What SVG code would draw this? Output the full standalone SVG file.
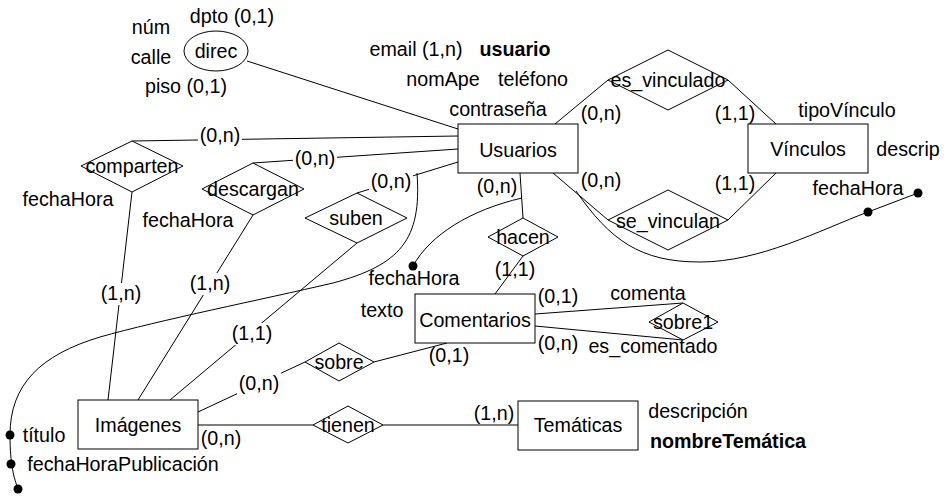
<svg xmlns="http://www.w3.org/2000/svg" width="949" height="501" viewBox="0 0 949 501">
<style>
text{font-family:"Liberation Sans",Arial,sans-serif;font-size:19.7px;fill:#000;text-anchor:middle}
.b{font-weight:bold}
.s{fill:#fff;stroke:#000;stroke-width:1}
.l{fill:none;stroke:#000;stroke-width:1}
.bg{fill:#fff}
.d{fill:#000}
</style>
<rect width="949" height="501" fill="#fff"/>
<g id="connectors">
<line class="l" x1="247" y1="61" x2="458" y2="129"/>
<line class="l" x1="132" y1="141" x2="458" y2="136"/>
<line class="l" x1="132" y1="192" x2="108" y2="400"/>
<line class="l" x1="253" y1="163" x2="458" y2="149"/>
<line class="l" x1="253" y1="215" x2="138" y2="400"/>
<line class="l" x1="357" y1="193" x2="458" y2="162"/>
<line class="l" x1="357" y1="243" x2="170" y2="400"/>
<line class="l" x1="555" y1="124" x2="608" y2="80"/>
<line class="l" x1="728" y1="80" x2="776" y2="124"/>
<line class="l" x1="553" y1="173" x2="608" y2="220"/>
<line class="l" x1="728" y1="220" x2="776" y2="173"/>
<line class="l" x1="520" y1="173" x2="523" y2="218"/>
<line class="l" x1="523" y1="256" x2="495" y2="294"/>
<line class="l" x1="535" y1="314" x2="683" y2="303"/>
<line class="l" x1="535" y1="326" x2="683" y2="340"/>
<line class="l" x1="374" y1="362" x2="447" y2="343"/>
<line class="l" x1="198" y1="412" x2="305" y2="362"/>
<line class="l" x1="198" y1="425" x2="313" y2="425"/>
<line class="l" x1="383" y1="425" x2="518" y2="425"/>
<path class="l" d="M576,191 C610,240 640,262 700,262 C760,262 820,230 868,212 L918,193"/>
<path class="l" d="M522,198 C470,210 430,235 413,266"/>
<path class="l" d="M417,173 C422,240 400,265 333,283 C260,300 160,320 100,337 C40,355 10,385 10,435 C10,465 14,478 18,489"/>
<circle class="d" cx="868" cy="212" r="4.5"/>
<circle class="d" cx="918" cy="193" r="4.5"/>
<circle class="d" cx="413" cy="266" r="4.5"/>
<circle class="d" cx="10" cy="435" r="4.5"/>
<circle class="d" cx="11" cy="464" r="4.5"/>
<circle class="d" cx="18" cy="489" r="4.5"/>
<rect class="bg" x="198" y="125" width="44" height="22"/>
<text x="220" y="142">(0,n)</text>
<rect class="bg" x="293" y="148" width="44" height="22"/>
<text x="315" y="165">(0,n)</text>
<rect class="bg" x="369" y="171" width="44" height="22"/>
<text x="391" y="188">(0,n)</text>
<rect class="bg" x="99" y="283" width="44" height="22"/>
<text x="121" y="300">(1,n)</text>
<rect class="bg" x="188" y="273" width="44" height="22"/>
<text x="210" y="290">(1,n)</text>
<rect class="bg" x="230" y="323" width="44" height="22"/>
<text x="252" y="340">(1,1)</text>
<rect class="bg" x="237" y="373" width="44" height="22"/>
<text x="259" y="390">(0,n)</text>
<text x="601" y="120">(0,n)</text>
<text x="735" y="120">(1,1)</text>
<text x="601" y="187">(0,n)</text>
<text x="735" y="190">(1,1)</text>
<text x="497" y="193">(0,n)</text>
<text x="515" y="276">(1,1)</text>
<text x="558" y="303">(0,1)</text>
<text x="558" y="350">(0,n)</text>
<text x="449" y="362">(0,1)</text>
<text x="221" y="445">(0,n)</text>
<text x="494" y="420">(1,n)</text>
</g>
<g id="direc">
<ellipse class="s" cx="216" cy="51" rx="32" ry="20"/>
<text x="216" y="58">direc</text>
<text x="232" y="23">dpto (0,1)</text>
<text x="151" y="34">núm</text>
<text x="151" y="64">calle</text>
<text x="186" y="93">piso (0,1)</text>
</g>
<g id="usuarios">
<rect class="s" x="458" y="124" width="120" height="49"/>
<text x="518" y="157">Usuarios</text>
<text x="416" y="56">email (1,n)</text>
<text class="b" x="515" y="56">usuario</text>
<text x="443" y="86">nomApe</text>
<text x="533" y="86">teléfono</text>
<text x="498" y="116">contraseña</text>
</g>
<g id="vinculos">
<rect class="s" x="748" y="124" width="120" height="49"/>
<text x="808" y="156">Vínculos</text>
<text x="847" y="117">tipoVínculo</text>
<text x="908" y="156">descrip</text>
<text x="858" y="195">fechaHora</text>
</g>
<g id="es_vinculado">
<polygon class="s" points="668,50 728,80 668,110 608,80"/>
<text x="668" y="87">es_vinculado</text>
</g>
<g id="se_vinculan">
<polygon class="s" points="668,190 728,220 668,250 608,220" fill-opacity="0"/>
<text x="668" y="228">se_vinculan</text>
</g>
<g id="hacen">
<polygon class="s" points="523,218 558,237 523,256 488,237"/>
<text x="523" y="244">hacen</text>
<text x="414" y="285">fechaHora</text>
</g>
<g id="comentarios">
<rect class="s" x="415" y="294" width="120" height="49"/>
<text x="475" y="327">Comentarios</text>
<text x="382" y="317">texto</text>
</g>
<g id="sobre1">
<polygon class="s" points="683,303 718,322 683,340 649,322"/>
<text x="683" y="329">sobre1</text>
<text x="648" y="300">comenta</text>
<text x="653" y="353">es_comentado</text>
</g>
<g id="sobre">
<polygon class="s" points="339,343 374,362 339,381 305,362"/>
<text x="339" y="369">sobre</text>
</g>
<g id="comparten">
<polygon class="s" points="132,141 183,166 132,192 81,166"/>
<text x="132" y="173">comparten</text>
<text x="68" y="206">fechaHora</text>
</g>
<g id="descargan">
<polygon class="s" points="253,163 304,189 253,215 202,189"/>
<text x="253" y="196">descargan</text>
<text x="188" y="227">fechaHora</text>
</g>
<g id="suben">
<polygon class="s" points="357,193 407,218 357,243 305,218"/>
<text x="356" y="225">suben</text>
</g>
<g id="imagenes">
<rect class="s" x="78" y="400" width="120" height="49"/>
<text x="138" y="432">Imágenes</text>
<text x="44" y="442">título</text>
<text x="123" y="471">fechaHoraPublicación</text>
</g>
<g id="tienen">
<polygon class="s" points="348,406 383,425 348,443 313,425"/>
<text x="348" y="432">tienen</text>
</g>
<g id="tematicas">
<rect class="s" x="518" y="401" width="120" height="49"/>
<text x="578" y="432">Temáticas</text>
<text x="698" y="418">descripción</text>
<text class="b" x="728" y="448">nombreTemática</text>
</g>
</svg>
